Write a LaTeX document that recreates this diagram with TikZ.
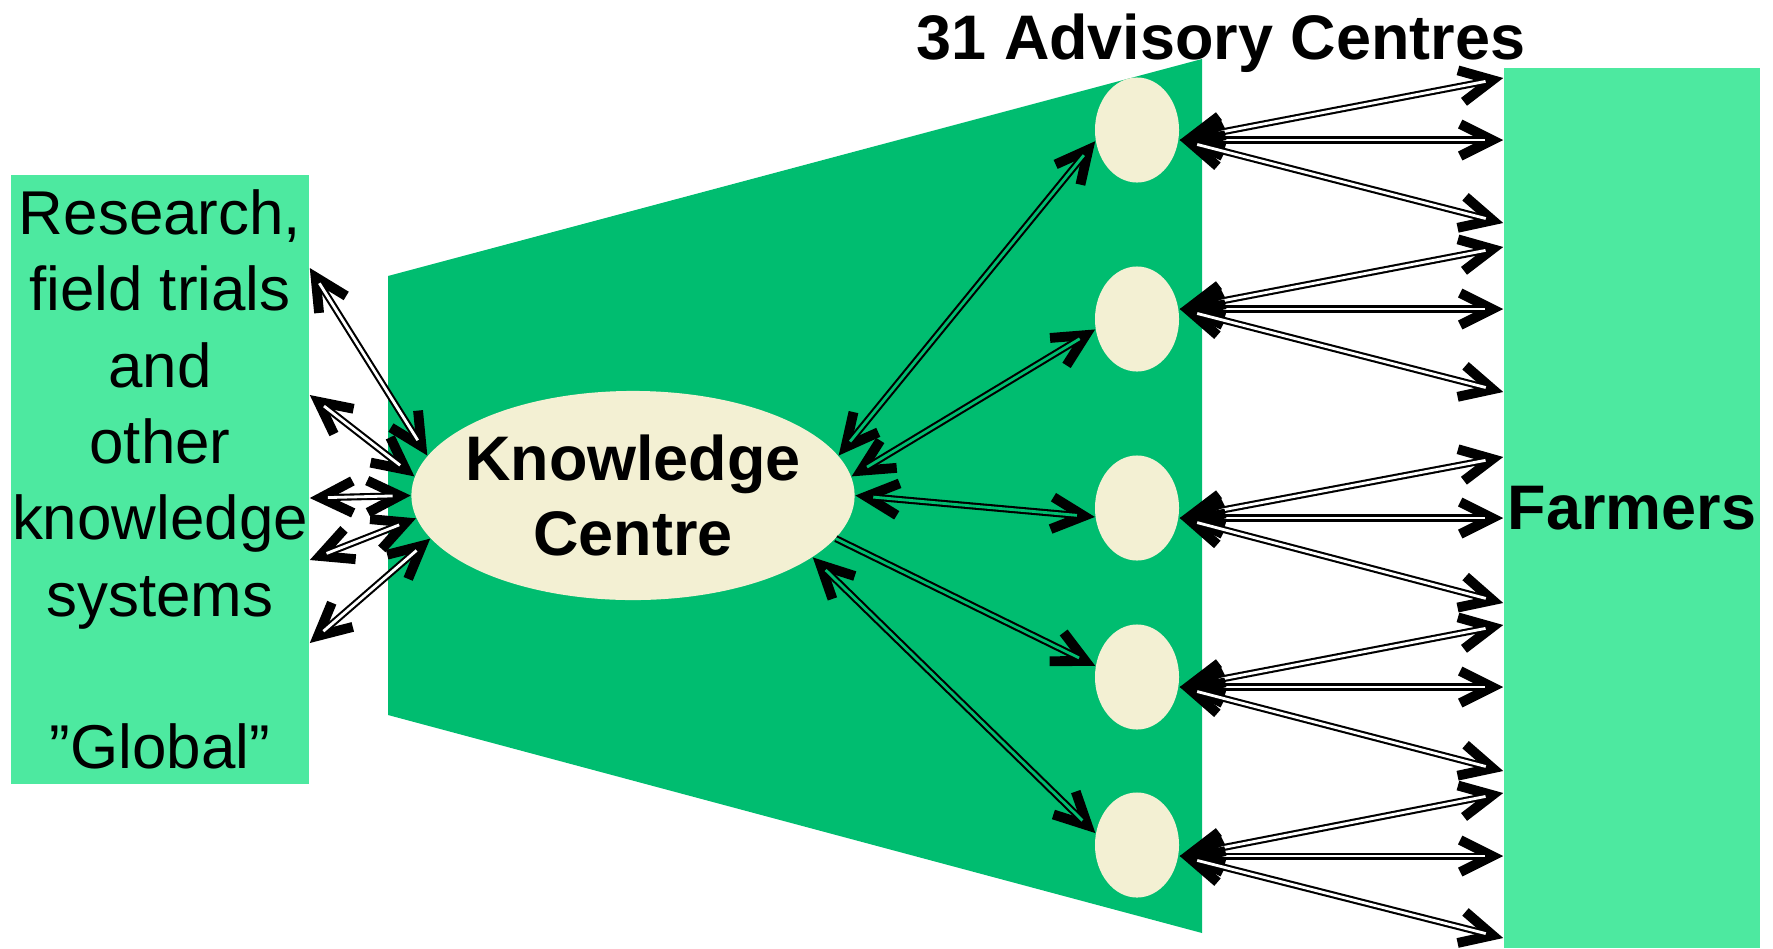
\documentclass[tikz,border=0pt]{standalone}
\usepackage{fontspec}
\setmainfont{Liberation Sans}
\usetikzlibrary{arrows.meta,shapes.geometric}
\definecolor{srcgreen}{RGB}{77,233,160}
\definecolor{hubgreen}{RGB}{0,189,112}
\definecolor{cream}{RGB}{243,240,211}
\tikzset{
  chev/.tip={Straight Barb[length=3.2mm,width=3.2mm,line width=2.8pt]},
  link/.style={line width=2pt,chev-chev,postaction={draw=#1,line width=0.8pt,-,shorten <=1.8mm,shorten >=1.8mm}},
  link/.default=white,
  oneway/.style={line width=2pt,-chev,postaction={draw=#1,line width=0.8pt,-,shorten >=1.8mm}},
  oneway/.default=white,
  srcbox/.style={fill=srcgreen,minimum width=2.98cm,minimum height=6.09cm,inner sep=0pt,align=center,font=\fontsize{17.6}{21.7}\selectfont},
  hub/.style={ellipse,fill=cream,minimum width=4.43cm,minimum height=2.09cm,inner sep=0pt},
  hubtext/.style={align=center,inner sep=0pt,font=\fontsize{17.9}{21.6}\selectfont\bfseries},
  adv/.style={ellipse,fill=cream,minimum width=0.84cm,minimum height=1.05cm,inner sep=0pt},
  farmbox/.style={fill=srcgreen,minimum width=2.56cm,minimum height=8.8cm,inner sep=0pt,font=\fontsize{17.9}{21.6}\selectfont\bfseries},
}

\begin{document}
\begin{tikzpicture}[x=0.01cm,y=-0.01cm]
    \useasboundingbox (0,0) rectangle (1773,948);
    \fill[hubgreen] (388,276)--(1202,59)--(1202,933)--(388,715)--cycle;
    \node[srcbox] (src) at (160,479.5) {Research,\\field trials\\and\\other\\knowledge\\systems\\[21.7pt]”Global”};
    \node[hub] (kc) at (633,495.5) {};
    \node[hubtext] (kctext) at (kc) {Knowledge\\Centre};
    \node[adv] (ac1) at (1137,130) {};
    \node[adv] (ac2) at (1137,319) {};
    \node[adv] (ac3) at (1137,508) {};
    \node[adv] (ac4) at (1137,677) {};
    \node[adv] (ac5) at (1137,845) {};
    \node[farmbox] (farm) at (1632,508) {Farmers};
    \node[anchor=base,font=\fontsize{17.9}{21.6}\selectfont\bfseries] (title) at (1221,59) {31 Advisory Centres};
    \draw[link] (kc.169)--(src.east |- 0,268);
    \draw[link] (kc.175)--(src.east |- 0,395);
    \draw[link] (kc.180)--(src.east |- 0,498);
    \draw[link] (kc.186)--(src.east |- 0,560);
    \draw[link] (kc.192)--(src.east |- 0,643);
    \draw[link=hubgreen] (kc.11)--(ac1.195);
    \draw[link=hubgreen] (kc.5)--(ac2.194);
    \draw[link=hubgreen] (kc.0)--(ac3.192);
    \draw[oneway=hubgreen] (kc.-12)--(ac4.165);
    \draw[link=hubgreen] (kc.-19)--(ac5.164);
    \draw[link] (ac1.east |- 0,140)--(farm.west |- 0,78);
    \draw[link] (ac1.east |- 0,140)--(farm.west |- 0,140);
    \draw[link] (ac1.east |- 0,140)--(farm.west |- 0,223);
    \draw[link] (ac2.east |- 0,309)--(farm.west |- 0,247);
    \draw[link] (ac2.east |- 0,309)--(farm.west |- 0,309);
    \draw[link] (ac2.east |- 0,309)--(farm.west |- 0,392);
    \draw[link] (ac3.east |- 0,518)--(farm.west |- 0,457);
    \draw[link] (ac3.east |- 0,518)--(farm.west |- 0,518);
    \draw[link] (ac3.east |- 0,518)--(farm.west |- 0,603);
    \draw[link] (ac4.east |- 0,687)--(farm.west |- 0,625);
    \draw[link] (ac4.east |- 0,687)--(farm.west |- 0,687);
    \draw[link] (ac4.east |- 0,687)--(farm.west |- 0,771);
    \draw[link] (ac5.east |- 0,856)--(farm.west |- 0,793);
    \draw[link] (ac5.east |- 0,856)--(farm.west |- 0,856);
    \draw[link] (ac5.east |- 0,856)--(farm.west |- 0,938);
\end{tikzpicture}
\end{document}
